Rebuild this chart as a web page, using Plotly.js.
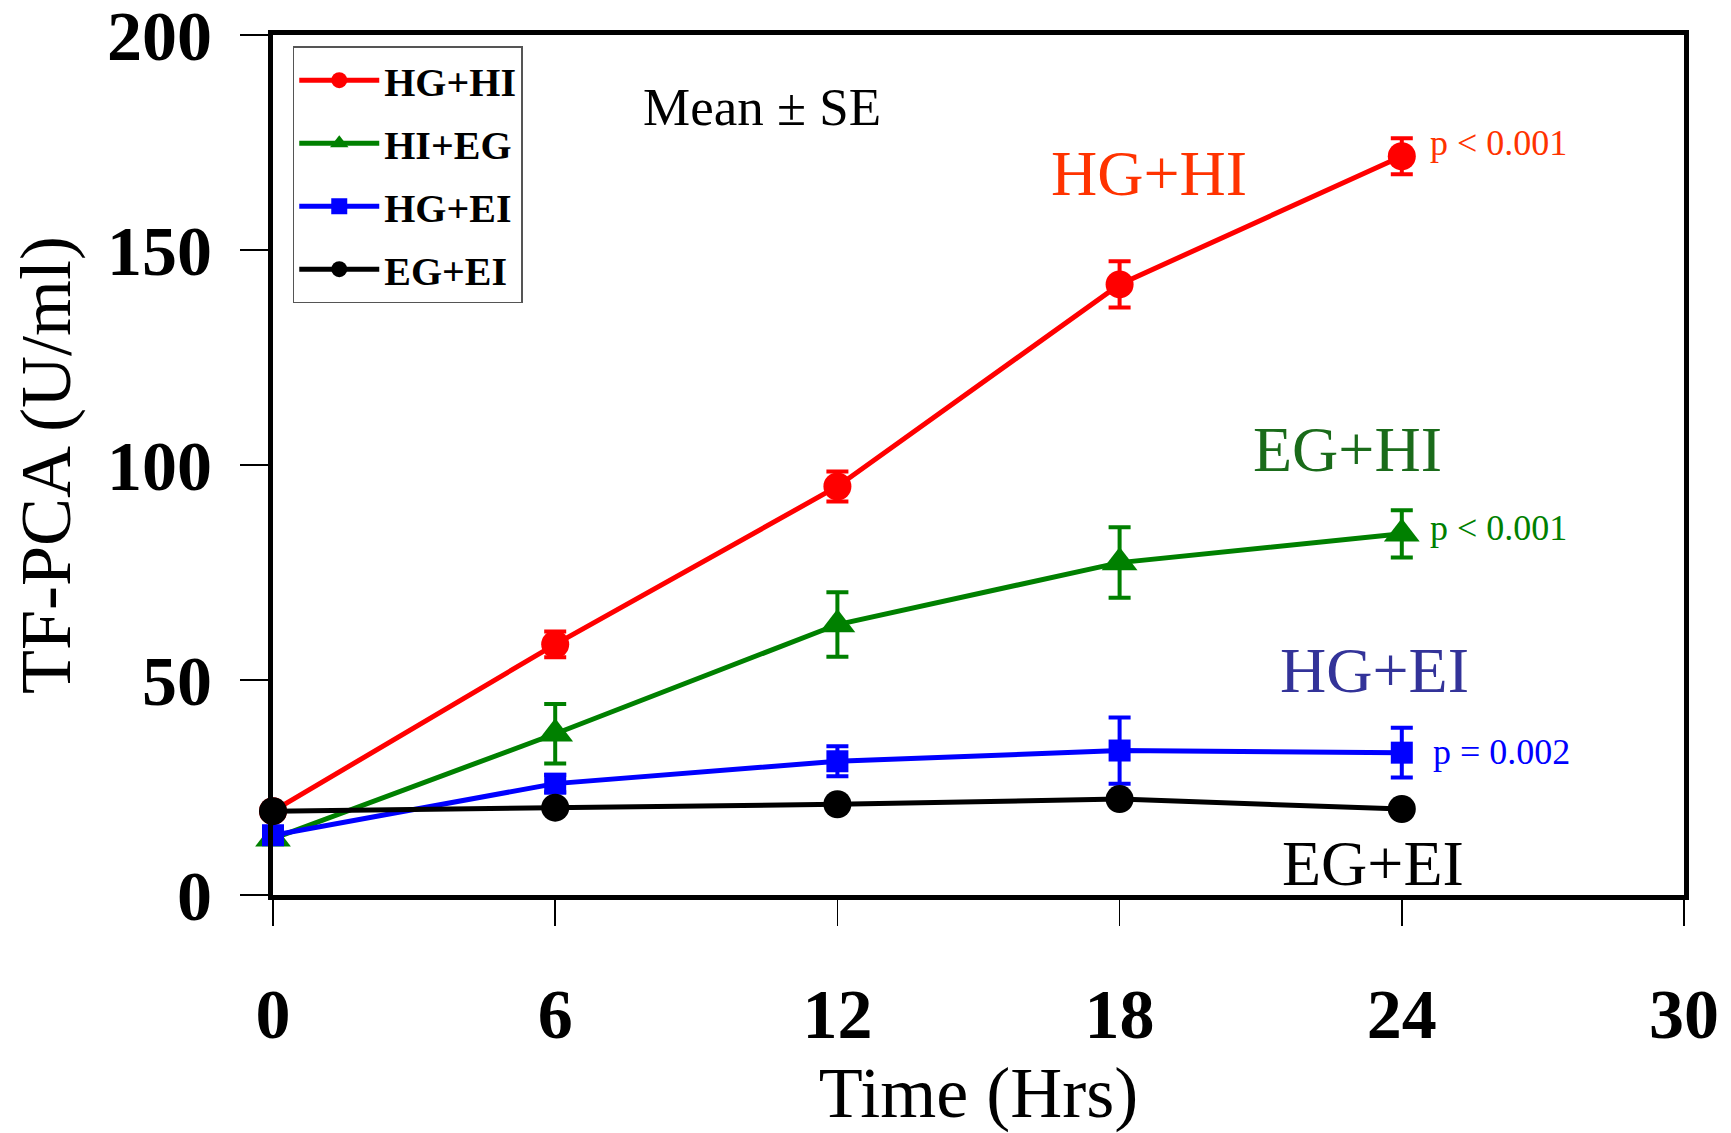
<!DOCTYPE html>
<html>
<head>
<meta charset="utf-8">
<script src="https://cdn.plot.ly/plotly-3.0.1.min.js"></script>
<style>html,body{margin:0;padding:0;background:#fff}#chart{width:1731px;height:1133px}</style>
</head>
<body>
<div id="chart"></div>
<script>
var timeHrs = [0, 6, 12, 18, 24];
var hgHi = [19.5, 58.3, 95.0, 142.0, 171.8];
var hgHiSE = [0.8, 3.0, 3.5, 5.4, 4.2];
var hiEg = [13.1, 37.5, 62.9, 77.3, 84.0];
var hiEgSE = [0.8, 6.9, 7.5, 8.2, 5.5];
var hgEi = [13.9, 25.9, 31.1, 33.6, 33.1];
var hgEiSE = [0.8, 2.0, 3.5, 7.7, 5.8];
var egEi = [19.5, 20.3, 21.1, 22.3, 20.0];
var egEiSE = [0.5, 0.8, 0.8, 1.0, 0.8];
var xTicks = [0, 6, 12, 18, 24, 30];
var yTicks = [0, 50, 100, 150, 200];

var FONT = 'Liberation Serif, Times New Roman, serif';

function series(name, y, se, color, symbol, size, group) {
  return {
    x: timeHrs, y: y, name: name, type: 'scatter', mode: 'lines+markers',
    legendgroup: group, cliponaxis: false,
    line: {color: color, width: 5},
    marker: {color: color, symbol: symbol, size: size},
    error_y: {type: 'data', array: se, visible: true, color: color, thickness: 4, width: 11}
  };
}

var data = [
  series('HG+HI', hgHi, hgHiSE, '#ff0000', 'circle', 28, 'a'),
  series('HI+EG', hiEg, hiEgSE, '#008000', 'triangle-up', 31, 'b'),
  series('HG+EI', hgEi, hgEiSE, '#0000ff', 'square', 22, 'c'),
  series('EG+EI', egEi, egEiSE, '#000000', 'circle', 28, 'd')
];

function ann(text, x, y, color, size, xanchor) {
  return {text: text, x: x, y: y, xref: 'x', yref: 'y', showarrow: false,
    xanchor: xanchor || 'center', yanchor: 'middle',
    font: {family: FONT, size: size, color: color}};
}

var layout = {
  width: 1731, height: 1133,
  margin: {l: 273, r: 47, t: 35, b: 238},
  paper_bgcolor: '#ffffff', plot_bgcolor: '#ffffff',
  showlegend: true,
  legend: {
    x: 0.014, y: 0.987, xanchor: 'left', yanchor: 'top',
    bgcolor: '#ffffff', bordercolor: '#555555', borderwidth: 1.5,
    font: {family: FONT, size: 40, color: '#000', weight: 'bold'},
    traceorder: 'grouped', tracegroupgap: 8, itemwidth: 80
  },
  xaxis: {
    range: [0, 30], tickvals: xTicks, ticktext: xTicks.map(String),
    showgrid: false, zeroline: false,
    showline: true, linewidth: 5, linecolor: '#000', mirror: true,
    ticks: 'outside', ticklen: 26, tickwidth: 1.5, tickcolor: '#000',
    ticklabelstandoff: 28, ticklabeloverflow: 'allow',
    tickfont: {family: FONT, size: 70, color: '#000', weight: 'bold'},
    title: {text: 'Time (Hrs)', font: {family: FONT, size: 72, color: '#000'}, standoff: 0}
  },
  yaxis: {
    range: [0, 200], tickvals: yTicks, ticktext: yTicks.map(String),
    showgrid: false, zeroline: false,
    showline: true, linewidth: 5, linecolor: '#000', mirror: true,
    ticks: 'outside', ticklen: 28, tickwidth: 1.5, tickcolor: '#000',
    ticklabelstandoff: 14, ticklabeloverflow: 'allow',
    tickfont: {family: FONT, size: 70, color: '#000', weight: 'bold'},
    title: {text: 'TF-PCA (U/ml)', font: {family: FONT, size: 72, color: '#000'}, standoff: 14}
  },
  annotations: [
    ann('Mean \u00b1 SE', 10.4, 183.3, '#000000', 53),
    ann('HG+HI', 18.62, 167.9, '#ff3300', 64),
    ann('EG+HI', 22.84, 103.7, '#1a6b1a', 64),
    ann('HG+EI', 23.43, 52.1, '#333399', 64),
    ann('EG+EI', 23.38, 7.4, '#000000', 64),
    ann('p &lt; 0.001', 24.55, 174.8, '#ff3300', 36, 'left'),
    ann('p &lt; 0.001', 24.55, 85.4, '#008000', 36, 'left'),
    ann('p = 0.002', 24.63, 33.3, '#0000ff', 36, 'left')
  ]
};

Plotly.newPlot('chart', data, layout, {displayModeBar: false, staticPlot: true});
</script>
</body>
</html>
